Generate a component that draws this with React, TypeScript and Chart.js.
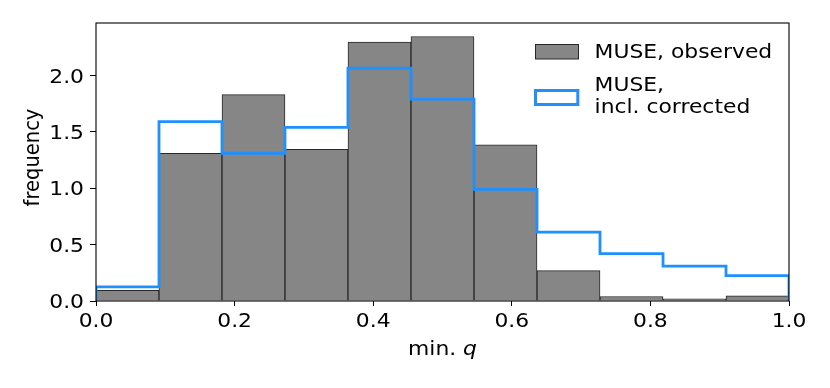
import React, { useEffect, useRef } from "react";
import { Chart, registerables } from "chart.js";

Chart.register(...registerables);

const binEdges = [0, 0.0909, 0.1818, 0.2727, 0.3636, 0.4545, 0.5455, 0.6364, 0.7273, 0.8182, 0.9091, 1.0];
const observed = [0.095, 1.31, 1.83, 1.345, 2.295, 2.345, 1.385, 0.27, 0.04, 0.02, 0.045];
const corrected = [0.125, 1.59, 1.31, 1.54, 2.065, 1.79, 0.99, 0.61, 0.42, 0.31, 0.225];
const xTicks = [0, 0.2, 0.4, 0.6, 0.8, 1.0];
const yTicks = [0, 0.5, 1.0, 1.5, 2.0];
const seriesLabels = ["MUSE, observed", "MUSE,\nincl. corrected"];
const xTitle = "min. ";
const xTitleItalic = "q";
const yTitle = "frequency";

const FONT = "'DejaVu Sans', sans-serif";
const FS = 19.5;
const SX = 1.12;
const GRAY = "rgb(134,134,134)";
const EDGE = "rgb(40,40,40)";
const BLUE = "#1E90FF";

function drawText(ctx: any, text: string, x: number, y: number, align: string, italic = false) {
  ctx.save();
  ctx.translate(x, y);
  ctx.scale(SX, 1);
  ctx.font = `${italic ? "italic " : ""}${FS}px ${FONT}`;
  ctx.textAlign = align;
  ctx.textBaseline = "alphabetic";
  ctx.fillStyle = "#000";
  ctx.fillText(text, 0, 0);
  ctx.restore();
}

const framePlugin = {
  id: "frameAndText",
  afterDatasetsDraw(chart: any) {
    const { ctx, chartArea, scales } = chart;
    ctx.save();
    ctx.strokeStyle = "#000";
    ctx.lineWidth = 1.1;
    ctx.strokeRect(chartArea.left, chartArea.top, chartArea.right - chartArea.left, chartArea.bottom - chartArea.top);

    // tick labels
    xTicks.forEach((v) => {
      drawText(ctx, v.toFixed(1), scales.x.getPixelForValue(v), 326.5, "center");
    });
    yTicks.forEach((v) => {
      drawText(ctx, v.toFixed(1), 84, scales.y.getPixelForValue(v) + 7.1, "right");
    });

    // legend
    const ds = chart.data.datasets;
    ctx.fillStyle = GRAY;
    ctx.fillRect(535, 44, 44, 15);
    ctx.strokeStyle = EDGE;
    ctx.lineWidth = 1;
    ctx.strokeRect(535.5, 44.5, 43, 14.5);
    ctx.fillStyle = "#fff";
    ctx.fillRect(535, 90, 43, 15);
    ctx.strokeStyle = BLUE;
    ctx.lineWidth = 3;
    ctx.strokeRect(535.5, 90.5, 42.3, 14);
    const obsLines = String(ds[0].label).split("\n");
    obsLines.forEach((t: string, i: number) => drawText(ctx, t, 594.6, 58.3 + i * 22.3, "left"));
    const corLines = String(ds[1].label).split("\n");
    corLines.forEach((t: string, i: number) => drawText(ctx, t, 594.6, 91 + i * 22.3, "left"));

    // x title with italic q
    ctx.font = `${FS}px ${FONT}`;
    const w1 = ctx.measureText(xTitle).width * SX;
    ctx.font = `italic ${FS}px ${FONT}`;
    const w2 = ctx.measureText(xTitleItalic).width * SX;
    const cx = (chartArea.left + chartArea.right) / 2;
    const start = cx - (w1 + w2) / 2;
    drawText(ctx, xTitle, start, 355, "left");
    drawText(ctx, xTitleItalic, start + w1, 355, "left", true);

    // y title
    ctx.translate(38.5, 157.5);
    ctx.scale(SX, 1);
    ctx.rotate(-Math.PI / 2);
    ctx.font = `${FS}px ${FONT}`;
    ctx.fillStyle = "#000";
    ctx.textAlign = "center";
    ctx.textBaseline = "alphabetic";
    ctx.fillText(yTitle, 0, 0);
    ctx.restore();
  },
};

export default function App() {
  const ref = useRef<HTMLCanvasElement>(null);
  useEffect(() => {
    if (!ref.current) return;
    const barData = observed.map((v, i) => ({ x: (binEdges[i] + binEdges[i + 1]) / 2, y: v }));
    const stepData: { x: number; y: number }[] = [{ x: binEdges[0], y: 0 }];
    corrected.forEach((v, i) => stepData.push({ x: binEdges[i], y: v }));
    stepData.push({ x: binEdges[binEdges.length - 1], y: corrected[corrected.length - 1] });
    stepData.push({ x: binEdges[binEdges.length - 1], y: 0 });

    const chart = new Chart(ref.current, {
      type: "bar",
      data: {
        datasets: [
          {
            type: "bar",
            label: seriesLabels[0],
            data: barData as any,
            backgroundColor: GRAY,
            borderColor: EDGE,
            borderWidth: 1,
            barPercentage: 1,
            categoryPercentage: 1,
            order: 2,
          },
          {
            type: "line",
            label: seriesLabels[1],
            data: stepData as any,
            borderColor: BLUE,
            borderWidth: 2.8,
            pointRadius: 0,
            fill: false,
            stepped: "before",
            tension: 0,
            borderJoinStyle: "miter",
            borderCapStyle: "butt",
            order: 1,
          } as any,
        ],
      },
      options: {
        responsive: false,
        animation: false,
        devicePixelRatio: 1,
        layout: { padding: { top: 23, right: 41, left: 0, bottom: 0 } },
        plugins: { legend: { display: false }, tooltip: { enabled: false } },
        scales: {
          x: {
            type: "linear",
            min: 0,
            max: 1,
            offset: false,
            afterFit: (s: any) => { s.height = 87; },
            afterBuildTicks: (s: any) => { s.ticks = xTicks.map((v) => ({ value: v })); },
            ticks: {
              color: "rgba(0,0,0,0)",
              font: { family: FONT, size: 19 },
              padding: 3,
              maxRotation: 0,
              callback: (v: any) => Number(v).toFixed(1),
            },
            grid: { offset: false, drawOnChartArea: false, drawTicks: true, tickLength: 5, color: "#000", tickWidth: 1 },
            border: { display: false },
          },
          y: {
            type: "linear",
            min: 0,
            max: 2.465,
            afterFit: (s: any) => { s.width = 96; },
            afterBuildTicks: (s: any) => { s.ticks = yTicks.map((v) => ({ value: v })); },
            ticks: {
              color: "rgba(0,0,0,0)",
              font: { family: FONT, size: 19 },
              padding: 7,
              callback: (v: any) => Number(v).toFixed(1),
            },
            grid: { drawOnChartArea: false, drawTicks: true, tickLength: 6, color: "#000", tickWidth: 1 },
            border: { display: false },
          },
        },
      },
      plugins: [framePlugin],
    } as any);
    return () => chart.destroy();
  }, []);
  return (
    <div style={{ position: "absolute", left: 0, top: 0, width: 830, height: 388, background: "#fff" }}>
      <canvas ref={ref} width={830} height={388} />
    </div>
  );
}
